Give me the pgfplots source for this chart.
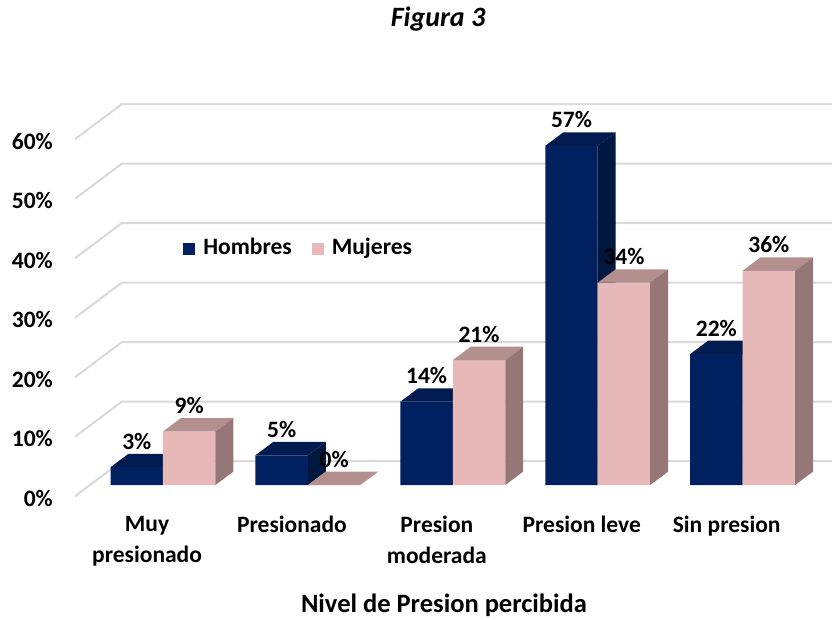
\documentclass[border=0pt]{standalone}
\usepackage{fontspec}
\setmainfont{Carlito}
\usepackage{pgfplots}
\pgfplotsset{compat=1.18}
\definecolor{hfront}{HTML}{002060}
\definecolor{htop}{HTML}{001B50}
\definecolor{hside}{HTML}{00173F}
\definecolor{mfront}{HTML}{E6B9B8}
\definecolor{mtop}{HTML}{B38F8E}
\definecolor{mside}{HTML}{947776}
\definecolor{gridc}{HTML}{D9D9D9}
\newcommand{\lblfont}{\fontsize{23.5}{31}\selectfont\bfseries}
\begin{document}
\begin{tikzpicture}
\useasboundingbox (0,0) rectangle (837pt,620pt);
\begin{axis}[
  at={(75pt,123.8pt)}, anchor=south west,
  scale only axis, width=757pt, height=392pt,
  xmin=-0.6073, xmax=4.617, ymin=-1.88, ymax=64,
  clip=false,
  axis line style={draw=none},
  major tick length=0pt,
  xtick={-0.11,0.89,1.89,2.89,3.89},
  xticklabels={{Muy\\presionado},{Presionado},{Presion\\moderada},{Presion leve},{Sin presion}},
  xticklabel style={align=center, anchor=north, inner sep=0pt, font=\lblfont, text=black},
  xticklabel shift=20pt,
  ytick={-1.88,8.12,18.12,28.12,38.12,48.12,58.12},
  yticklabels={0\%,10\%,20\%,30\%,40\%,50\%,60\%},
  yticklabel style={anchor=east, inner sep=0pt, font=\lblfont, text=black, yshift=-2pt},
  yticklabel shift=22pt,
  /pgf/number format/assume math mode=true,
  legend columns=2,
  legend style={at={(axis cs:0.136,39.66)}, anchor=west, draw=none, fill=none,
    inner sep=0pt, outer sep=0pt, font=\lblfont,
    nodes={inner sep=0pt, text height=15pt, text depth=5pt},
    /tikz/every even column/.append style={column sep=20pt}},
  every node near coord/.append style={font=\lblfont, text=black, inner sep=0pt, yshift=17.5pt},
  lbl/.style={draw=none, mark=none, forget plot, point meta=y,
    nodes near coords={\pgfmathprintnumber{\pgfplotspointmeta}\%},
    nodes near coords align={south}},
]
% gridlines (front edge, back edge, back wall)
\addplot[gridc, line width=2pt, forget plot] coordinates {(-0.6073,-1.88) (-0.285,4) (4.617,4)};
\addplot[gridc, line width=2pt, forget plot] coordinates {(-0.6073,8.12) (-0.285,14) (4.617,14)};
\addplot[gridc, line width=2pt, forget plot] coordinates {(-0.6073,18.12) (-0.285,24) (4.617,24)};
\addplot[gridc, line width=2pt, forget plot] coordinates {(-0.6073,28.12) (-0.285,34) (4.617,34)};
\addplot[gridc, line width=2pt, forget plot] coordinates {(-0.6073,38.12) (-0.285,44) (4.617,44)};
\addplot[gridc, line width=2pt, forget plot] coordinates {(-0.6073,48.12) (-0.285,54) (4.617,54)};
\addplot[gridc, line width=2pt, forget plot] coordinates {(-0.6073,58.12) (-0.285,64) (4.617,64)};
% Hombres: top and side faces
\addplot[fill=htop, draw=none, forget plot] coordinates {(-0.362,3) (0,3) (0.124,5.25) (-0.238,5.25)} -- cycle;
\addplot[fill=hside, draw=none, forget plot] coordinates {(0,0) (0.124,2.25) (0.124,5.25) (0,3)} -- cycle;
\addplot[fill=htop, draw=none, forget plot] coordinates {(0.638,5) (1,5) (1.124,7.25) (0.762,7.25)} -- cycle;
\addplot[fill=hside, draw=none, forget plot] coordinates {(1,0) (1.124,2.25) (1.124,7.25) (1,5)} -- cycle;
\addplot[fill=htop, draw=none, forget plot] coordinates {(1.638,14) (2,14) (2.124,16.25) (1.762,16.25)} -- cycle;
\addplot[fill=hside, draw=none, forget plot] coordinates {(2,0) (2.124,2.25) (2.124,16.25) (2,14)} -- cycle;
\addplot[fill=htop, draw=none, forget plot] coordinates {(2.638,57) (3,57) (3.124,59.25) (2.762,59.25)} -- cycle;
\addplot[fill=hside, draw=none, forget plot] coordinates {(3,0) (3.124,2.25) (3.124,59.25) (3,57)} -- cycle;
\addplot[fill=htop, draw=none, forget plot] coordinates {(3.638,22) (4,22) (4.124,24.25) (3.762,24.25)} -- cycle;
\addplot[fill=hside, draw=none, forget plot] coordinates {(4,0) (4.124,2.25) (4.124,24.25) (4,22)} -- cycle;
% Hombres front faces
\addplot[ybar, bar width=0.362, bar shift=-0.181, fill=hfront, draw=none,
  legend image code/.code={\fill[hfront] (0pt,-6.15pt) rectangle (12.3pt,6.15pt); \path (20.6pt,0pt);}]
  coordinates {(0,3) (1,5) (2,14) (3,57) (4,22)};
\addlegendentry{Hombres}
% Mujeres: front faces
\addplot[ybar, bar width=0.362, bar shift=0.181, fill=mfront, draw=none,
  legend image code/.code={\fill[mfront] (0pt,-6.15pt) rectangle (12.3pt,6.15pt); \path (20pt,0pt);}]
  coordinates {(0,9) (1,0) (2,21) (3,34) (4,36)};
\addlegendentry{Mujeres}
% Mujeres: top and side faces
\addplot[fill=mtop, draw=none, forget plot] coordinates {(0,9) (0.362,9) (0.486,11.25) (0.124,11.25)} -- cycle;
\addplot[fill=mside, draw=none, forget plot] coordinates {(0.362,0) (0.486,2.25) (0.486,11.25) (0.362,9)} -- cycle;
\addplot[fill=mtop, draw=none, forget plot] coordinates {(1,0) (1.362,0) (1.486,2.25) (1.124,2.25)} -- cycle;
\addplot[fill=mtop, draw=none, forget plot] coordinates {(2,21) (2.362,21) (2.486,23.25) (2.124,23.25)} -- cycle;
\addplot[fill=mside, draw=none, forget plot] coordinates {(2.362,0) (2.486,2.25) (2.486,23.25) (2.362,21)} -- cycle;
\addplot[fill=mtop, draw=none, forget plot] coordinates {(3,34) (3.362,34) (3.486,36.25) (3.124,36.25)} -- cycle;
\addplot[fill=mside, draw=none, forget plot] coordinates {(3.362,0) (3.486,2.25) (3.486,36.25) (3.362,34)} -- cycle;
\addplot[fill=mtop, draw=none, forget plot] coordinates {(4,36) (4.362,36) (4.486,38.25) (4.124,38.25)} -- cycle;
\addplot[fill=mside, draw=none, forget plot] coordinates {(4.362,0) (4.486,2.25) (4.486,38.25) (4.362,36)} -- cycle;
% value labels, centred over each bar's front face
\addplot[lbl] coordinates {(-0.181,3) (0.819,5) (1.819,14) (2.819,57) (3.819,22)};
\addplot[lbl] coordinates {(0.181,9) (1.181,0) (2.181,21) (3.181,34) (4.181,36)};
\end{axis}
\node[anchor=base, font=\fontsize{28}{34}\selectfont\bfseries\itshape] at (438pt,593pt) {Figura 3};
\node[anchor=base, font=\fontsize{26.5}{32}\selectfont\bfseries] at (444pt,7pt) {Nivel de Presion percibida};
\end{tikzpicture}
\end{document}
